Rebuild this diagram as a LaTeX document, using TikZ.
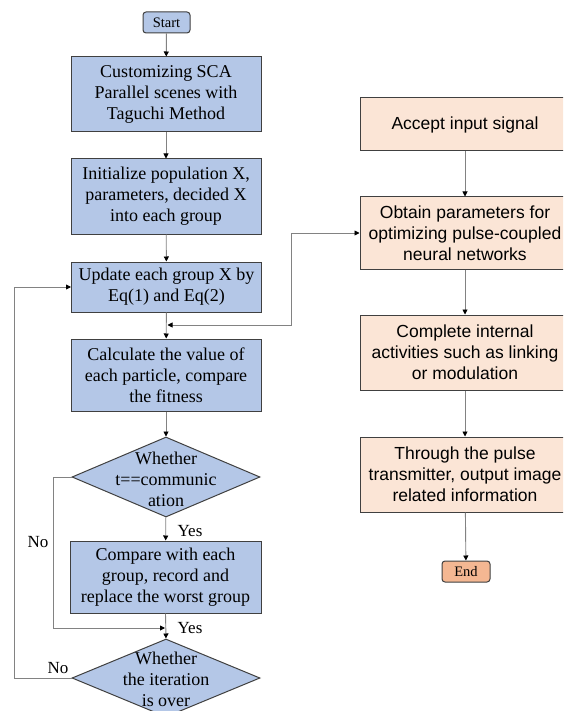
\documentclass[tikz,border=0pt]{standalone}
\usepackage{fontspec}
\setmainfont{Liberation Serif}
\newfontfamily\arialf{Liberation Sans}
\usetikzlibrary{shapes.geometric,arrows.meta}
\definecolor{bluefill}{RGB}{180,199,231}
\definecolor{orfill}{RGB}{251,229,214}
\definecolor{endfill}{RGB}{244,183,146}
\definecolor{edgec}{RGB}{64,64,64}
\definecolor{linec}{RGB}{130,130,130}
\begin{document}
\begin{tikzpicture}[x=1pt,y=-1pt,
  bbox/.style={draw=edgec, line width=1pt, fill=bluefill, align=center,
    font=\fontsize{18}{21}\selectfont, inner sep=0pt, minimum width=190pt},
  obox/.style={draw=edgec, line width=1pt, fill=orfill, align=center,
    font=\arialf\fontsize{17.5}{21}\selectfont, inner sep=0pt, minimum width=210pt},
  term/.style={draw=edgec, line width=1pt, rounded corners=3pt, inner sep=0pt,
    font=\fontsize{14.5}{16}\selectfont},
  dia/.style={diamond, draw=edgec, line width=1pt, fill=bluefill, inner sep=0pt,
    minimum width=188pt, minimum height=80pt},
  dtext/.style={align=center, font=\fontsize{18}{21}\selectfont, inner sep=0pt},
  lbl/.style={font=\fontsize{17}{20}\selectfont, inner sep=0pt},
  conn/.style={draw=linec, line width=0.9pt, -{Triangle[length=5pt,width=5pt,color=black]}},
  bconn/.style={draw=linec, line width=0.9pt, {Triangle[length=5pt,width=5pt,color=black]}-{Triangle[length=5pt,width=5pt,color=black]}},
  plain/.style={draw=linec, line width=0.9pt}
]
\clip (0,0) rectangle (563,711);
\fill[white] (0,0) rectangle (563,711);

% left column
\node[term, fill=bluefill, minimum width=47pt, minimum height=21pt] (start) at (166.5,22.5) {Start};
\node[bbox, minimum height=75pt] (b1) at (166,94.5) {Customizing SCA\\Parallel scenes with\\Taguchi Method};
\node[bbox, minimum height=75pt] (b2) at (166,196.5) {Initialize population X,\\parameters, decided X\\into each group};
\node[bbox, minimum height=50pt] (b3) at (166.5,287) {Update each group X by\\Eq(1) and Eq(2)};
\node[bbox, minimum height=72pt] (b4) at (166,375) {Calculate the value of\\each particle, compare\\the fitness};
\node[dia] (d1) at (166,477) {};
\node[dtext] (d1t) at (166,479) {Whether\\t==communic\\ation};
\node[bbox, minimum height=72pt, minimum width=191pt] (b5) at (165.5,577) {Compare with each\\group, record and\\replace the worst group};
\node[dia, minimum height=78pt] (d2) at (166,678) {};
\node[dtext] (d2t) at (166,679) {Whether\\the iteration\\is over};

% right column
\node[obox, minimum height=53pt] (acc) at (465,124.5) {Accept input signal};
\node[obox, minimum height=72pt] (obt) at (465,233) {Obtain parameters for\\optimizing pulse-coupled\\neural networks};
\node[obox, minimum height=75pt] (cmp) at (465,352.5) {Complete internal\\activities such as linking\\or modulation};
\node[obox, minimum height=75pt] (thr) at (465,474.5) {Through the pulse\\transmitter, output image\\related information};
\node[term, fill=endfill, minimum width=48pt, minimum height=21pt] (end) at (466,571.5) {End};

% labels
\node[lbl] (yes1) at (190,531) {Yes};
\node[lbl] (yes2) at (190,628) {Yes};
\node[lbl] (no1) at (38,542) {No};
\node[lbl] (no2) at (58,668) {No};

% junctions
\coordinate (jn) at (167.5,325);
\coordinate (j2) at (165,628);

% connectors left
\draw[conn] (start) -- (b1);
\draw[conn] (b1) -- (b2);
\draw[conn] (b2) -- (b3);
\draw[conn] (b3) -- (b4);
\draw[conn] (b4) -- (d1);
\draw[conn] (d1) -- (b5);
\draw[conn] (b5.south) -- (d2.north);
\draw[conn] (d1.west) -- ++(-18,0) |- (j2);
\draw[conn] (d2.west) -- ++(-57,0) |- (b3.west);
\draw[bconn] (obt.west) -- ++(-68,0) |- (jn);

% connectors right
\draw[conn] (acc) -- (obt);
\draw[conn] (obt) -- (cmp);
\draw[conn] (cmp) -- (thr);
\draw[conn] (thr) -- (end);
\end{tikzpicture}
\end{document}
